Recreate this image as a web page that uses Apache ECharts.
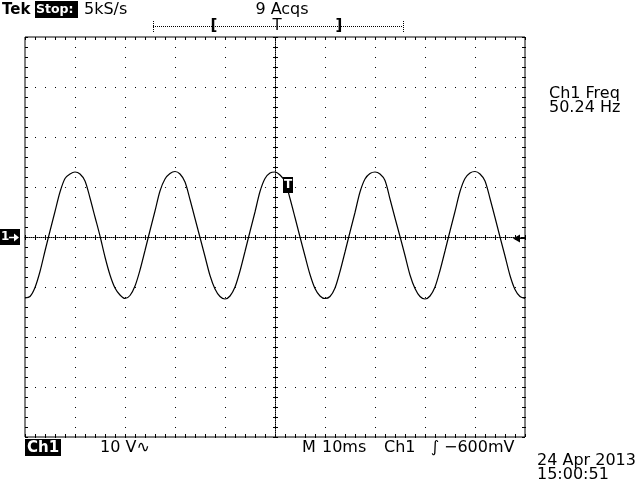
<!DOCTYPE html>
<html>
<head>
<meta charset="utf-8">
<script src="https://cdn.jsdelivr.net/npm/echarts@6/dist/echarts.min.js"></script>
<style>
html, body { margin: 0; padding: 0; background: #fff; }
#scope { width: 641px; height: 481px; }
</style>
</head>
<body>
<div id="scope"></div>
<script>
const timeMs = [
    -50, -49, -48, -47, -46, -45, -44, -43, -42, -41, -40, -39, -38, -37, -36, -35, -34, -33, -32, -31,
    -30, -29, -28, -27, -26, -25, -24, -23, -22, -21, -20, -19, -18, -17, -16, -15, -14, -13, -12, -11,
    -10, -9, -8, -7, -6, -5, -4, -3, -2, -1, 0, 1, 2, 3, 4, 5, 6, 7, 8, 9,
    10, 11, 12, 13, 14, 15, 16, 17, 18, 19, 20, 21, 22, 23, 24, 25, 26, 27, 28, 29,
    30, 31, 32, 33, 34, 35, 36, 37, 38, 39, 40, 41, 42, 43, 44, 45, 46, 47, 48, 49,
    50,
];
const ch1Volts = [
    -12.2, -11.9, -10.1, -6.9, -2.8, 1.2, 5.1, 9.0, 11.7, 12.6, 13.0, 12.6, 11.2, 7.8, 4.0, 0.2, -4.0, -7.6, -10.2, -11.6,
    -12.3, -11.7, -9.8, -6.6, -2.7, 1.3, 5.2, 9.2, 11.6, 12.7, 13.1, 12.6, 11.0, 7.5, 3.7, -0.1, -3.9, -7.7, -10.4, -11.9,
    -12.4, -11.8, -10.0, -6.8, -2.9, 1.1, 5.0, 9.1, 11.7, 12.8, 13.0, 12.4, 11.1, 7.7, 3.9, 0.0, -3.8, -7.5, -10.3, -11.8,
    -12.3, -11.9, -10.2, -6.9, -3.0, 1.0, 4.9, 9.0, 11.6, 12.7, 13.0, 12.6, 11.3, 7.6, 3.8, 0.1, -3.7, -7.6, -10.3, -11.9,
    -12.4, -11.8, -10.0, -6.7, -2.8, 1.2, 5.1, 9.1, 11.7, 12.8, 13.1, 12.6, 11.2, 7.7, 3.9, 0.0, -3.8, -7.7, -10.5, -11.9,
    -12.3,
];
// screen: 10 divisions of 10 ms, 8 divisions of 10 V, 5 minor steps per division
const timeRange = [-50, 50];
const voltRange = [-40, 40];
const divMs = 10;
const divVolts = 10;
const minorPerDiv = 5;

const FONT = '"DejaVu Sans", sans-serif';
const box = {left: 25, top: 37, width: 500, height: 400};

const chart = echarts.init(document.getElementById('scope'), null, {renderer: 'canvas'});

const xr = {min: timeRange[0], max: timeRange[1], interval: divMs};
const yr = {min: voltRange[0], max: voltRange[1], interval: divVolts};
const black = {color: '#000', width: 1};
const dotted = {show: true, lineStyle: {...black, type: [1, 9]}};

const hidden = (gridIndex) => ({type: 'value', gridIndex, show: false});
const plainAxis = (extra) => ({
    type: 'value',
    axisLine: {show: false, onZero: false},
    axisTick: {show: false},
    axisLabel: {show: false},
    splitLine: {show: false},
    ...extra,
});
// thin strips of grid whose split lines act as the graticule tick marks
const tickStrip = (gridIndex, range) => plainAxis({
    gridIndex, ...range,
    minorTick: {show: false, splitNumber: minorPerDiv},
    splitLine: {show: true, lineStyle: black},
    minorSplitLine: {show: true, lineStyle: black},
});
// dotted cross-hair through the screen centre
const centerLine = (gridIndex, range) => plainAxis({
    gridIndex, ...range,
    axisLine: {show: true, onZero: true, lineStyle: {...black, type: [1, 1]}},
});

const strips = [
    {left: 25, top: 37, width: 500, height: 3},   // top edge
    {left: 25, top: 434, width: 500, height: 3},  // bottom edge
    {left: 25, top: 37, width: 3, height: 400},   // left edge
    {left: 522, top: 37, width: 3, height: 400},  // right edge
    {left: 25, top: 235, width: 500, height: 5},  // horizontal centre
    {left: 273, top: 37, width: 5, height: 400},  // vertical centre
];

const txt = (text, x, y, opts = {}) => ({
    type: 'text',
    z: 100,
    style: {
        text, x, y,
        font: `${opts.bold ? 'bold ' : ''}${opts.size || 16}px ${FONT}`,
        fill: opts.fill || '#000',
        textAlign: opts.align || 'left',
        textVerticalAlign: 'middle',
    },
});
const block = (x, y, w, h) => ({type: 'rect', z: 99, shape: {x, y, width: w, height: h}, style: {fill: '#000'}});

chart.setOption({
    animation: false,
    backgroundColor: '#fff',
    grid: [
        {...box, show: true, borderColor: '#000', borderWidth: 1, backgroundColor: 'transparent'},
        {...box},
        ...strips,
    ],
    xAxis: [
        plainAxis({gridIndex: 0, ...xr, splitLine: dotted}),
        centerLine(1, xr),
        tickStrip(2, xr),
        tickStrip(3, xr),
        hidden(4),
        hidden(5),
        tickStrip(6, xr),
        hidden(7),
    ],
    yAxis: [
        plainAxis({gridIndex: 0, ...yr, splitLine: dotted}),
        centerLine(1, yr),
        hidden(2),
        hidden(3),
        tickStrip(4, yr),
        tickStrip(5, yr),
        hidden(6),
        tickStrip(7, yr),
    ],
    series: [{
        name: 'Ch1',
        type: 'line',
        xAxisIndex: 0,
        yAxisIndex: 0,
        data: timeMs.map((t, i) => [t, ch1Volts[i]]),
        showSymbol: false,
        smooth: 0.3,
        z: 10,
        lineStyle: {color: '#000', width: 1.2},
    }],
    graphic: [
        // header
        txt('Tek', 2, 10, {bold: true, size: 15}),
        block(35, 1, 43, 17),
        txt('Stop:', 36, 10, {bold: true, size: 12.5, fill: '#fff'}),
        txt('5kS/s', 84, 10),
        txt('9 Acqs', 282, 10, {align: 'center'}),
        // record position bracket
        {type: 'line', z: 99, shape: {x1: 153, y1: 26.5, x2: 403, y2: 26.5}, style: {stroke: '#000', lineWidth: 1, lineDash: [1, 1]}},
        {type: 'line', z: 99, shape: {x1: 153.5, y1: 21, x2: 153.5, y2: 32}, style: {stroke: '#000', lineWidth: 1, lineDash: [1, 1]}},
        {type: 'line', z: 99, shape: {x1: 403.5, y1: 21, x2: 403.5, y2: 32}, style: {stroke: '#000', lineWidth: 1, lineDash: [1, 1]}},
        txt('[', 214, 26, {bold: true, size: 15, align: 'center'}),
        txt('T', 277, 26, {size: 15, align: 'center'}),
        txt(']', 339, 26, {bold: true, size: 15, align: 'center'}),
        // measurement
        txt('Ch1 Freq', 549, 94),
        txt('50.24 Hz', 549, 108),
        // channel ground marker
        block(0, 229, 20, 16),
        txt('1', 1, 237, {bold: true, size: 12, fill: '#fff'}),
        {type: 'line', z: 100, shape: {x1: 9, y1: 237.5, x2: 17, y2: 237.5}, style: {stroke: '#fff', lineWidth: 1.5}},
        {type: 'polygon', z: 100, shape: {points: [[19, 237.5], [14, 233.5], [14, 241.5]]}, style: {fill: '#fff'}},
        // trigger marker
        block(283, 177, 10, 16),
        txt('T', 288, 185, {bold: true, size: 12, fill: '#fff', align: 'center'}),
        // trigger level marker
        {type: 'polygon', z: 99, shape: {points: [[513, 238.5], [520, 234.5], [520, 242.5]]}, style: {fill: '#000'}},
        {type: 'line', z: 99, shape: {x1: 520, y1: 238.5, x2: 525, y2: 238.5}, style: {stroke: '#000', lineWidth: 1}},
        // footer
        block(25, 439, 36, 17),
        txt('Ch1', 27, 448, {bold: true, size: 15, fill: '#fff'}),
        txt('10 V∿', 100, 448),
        txt('M', 302, 448),
        txt('10ms', 322, 448),
        txt('Ch1', 384, 448),
        txt('∫', 435, 448, {align: 'center'}),
        txt('−600mV', 444, 448),
        txt('24 Apr 2013', 537, 461),
        txt('15:00:51', 537, 475),
    ],
});
</script>
</body>
</html>
